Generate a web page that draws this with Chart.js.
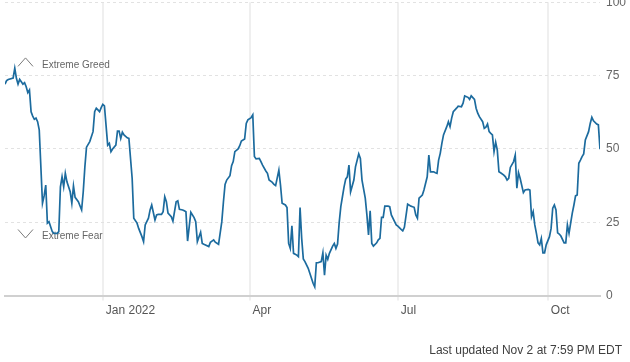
<!DOCTYPE html>
<html>
<head>
<meta charset="utf-8">
<script src="https://cdn.jsdelivr.net/npm/chart.js@4"></script>
<style>
  html, body { margin: 0; padding: 0; background: #fff; }
  #wrap { position: relative; width: 630px; height: 362px; overflow: hidden; }
  #c { position: absolute; left: 0; top: 0; }
  #foot { position: absolute; right: 8px; top: 342px; font: 12px "Liberation Sans", Arial, sans-serif; color: #404040; line-height: 16px; white-space: nowrap; }
</style>
</head>
<body>
<div id="wrap">
  <canvas id="c" width="630" height="362"></canvas>
  <div id="foot">Last updated Nov 2 at 7:59 PM EDT</div>
</div>
<script>
// Days counted from Jan 1 2022 (Nov 2 2021 = -60, Nov 2 2022 = 305)
const days = [
  -60,-59,-58,-55,-54,-53,-52,-51,-50,-49,
  -48,-47,-46,-45,-44,-43,-42,-41,-40,-39,
  -37,-36,-35,-34,-33,-32,-31,-30,-28,-27,
  -26,-25,-24,-23,-22,-20,-19,-18,-17,-15,
  -13,-12,-11,-10,-8,-6,-5,-4,-3,-2,
  -1,0,1,3,4,5,6,8,9,10,
  11,12,13,15,16,18,19,21,22,24,
  25,26,28,29,30,32,33,34,36,37,
  38,39,40,42,43,45,46,47,49,50,
  51,52,54,56,57,58,60,61,62,65,
  66,68,69,71,73,74,75,76,78,79,
  80,81,83,84,85,87,88,89,91,92,
  93,94,96,97,98,100,101,102,104,105,
  106,108,109,110,112,113,114,115,116,117,
  119,120,121,122,123,124,126,127,129,130,
  131,132,134,135,136,137,138,139,141,142,
  143,144,145,146,147,148,149,150,151,152,
  154,155,157,158,159,161,162,163,164,165,
  166,168,169,170,171,172,173,175,176,177,
  179,180,181,183,184,185,187,189,190,191,
  192,193,194,196,197,199,200,201,203,204,
  205,206,207,208,209,211,212,213,214,215,
  217,218,220,221,222,224,225,226,228,229,
  230,231,233,234,235,236,237,238,239,240,
  241,242,243,244,246,247,248,249,250,252,
  253,254,255,256,258,259,261,262,263,264,
  265,266,267,268,269,270,271,272,274,275,
  276,277,278,279,280,281,283,284,285,286,
  287,288,289,290,291,292,293,294,295,296,
  298,299,300,301,303,304,305
];
const values = [
  72.1,73.3,73.7,74.2,77.5,74.1,72.1,73.7,72.9,72.1,
  72.6,71.2,69.2,70.1,62.7,61.2,60.1,60.5,59.3,56.5,
  31.5,34.0,37.7,24.7,25.2,23.5,21.8,21.2,21.2,21.8,
  37.1,40.5,37.1,41.7,38.8,35.4,31.5,37.4,33.5,32.0,
  29.2,35.4,43.9,50.6,52.5,55.9,62.7,63.9,63.3,62.7,
  64.1,65.2,64.7,51.3,51.9,49.1,50.0,51.3,56.1,56.1,
  53.6,55.7,54.8,53.8,53.6,40.0,26.4,24.7,22.9,20.1,
  18.4,24.1,26.4,29.2,30.9,25.8,27.5,27.7,27.7,28.6,
  33.7,32.0,28.1,26.9,25.4,32.0,32.3,29.4,29.2,28.9,
  28.6,18.6,28.4,26.6,25.2,18.4,21.6,17.8,17.5,16.7,
  18.2,19.0,18.2,17.5,25.2,32.0,37.9,39.4,40.9,44.3,
  45.7,49.1,50.0,51.1,52.7,53.4,58.7,59.9,60.7,61.6,
  47.4,46.6,46.8,45.7,44.5,42.5,41.7,39.4,38.6,37.9,
  37.5,42.8,37.7,31.5,30.9,30.0,17.8,16.1,23.8,14.4,
  13.8,13.3,30.0,19.5,12.5,11.6,9.3,7.6,4.2,3.0,
  11.2,11.2,11.6,14.6,7.0,13.8,12.4,14.4,16.9,17.8,
  16.1,17.6,24.9,30.3,33.7,37.1,39.7,40.5,44.5,35.4,
  39.4,43.9,48.3,46.8,39.4,33.2,27.5,20.7,28.9,17.8,
  16.9,18.0,19.0,19.5,26.7,26.7,30.5,30.5,30.3,27.5,
  25.2,24.1,23.7,22.6,22.1,23.3,31.2,30.5,30.3,30.1,
  27.5,26.4,33.2,34.3,36.0,40.5,47.9,42.2,42.2,41.9,
  41.7,46.2,48.5,51.9,54.8,57.6,59.3,57.6,60.5,62.7,
  63.9,64.6,64.4,65.6,68.1,67.6,66.9,68.1,66.9,63.9,
  62.2,61.0,59.3,57.0,57.4,58.5,55.9,55.3,54.8,49.1,
  52.3,49.6,42.2,41.9,41.1,40.5,39.4,40.0,43.7,45.7,
  47.9,36.6,41.9,40.0,35.1,36.0,36.2,36.0,26.9,28.6,
  24.1,21.2,18.0,17.3,19.5,14.6,14.6,17.3,20.1,22.9,
  29.8,30.9,29.2,21.4,21.0,20.3,18.0,18.0,24.1,21.2,
  24.7,28.1,30.9,34.0,34.3,45.1,46.2,47.4,48.3,53.1,
  55.9,58.7,60.8,59.6,58.5,58.2,49.9
];
const xTickDays = [0, 90, 181, 273];
const xTickLabels = ["Jan 2022", "Apr", "Jul", "Oct"];
const yTicks = [0, 25, 50, 75, 100];
const zoneLabels = ["Extreme Greed", "Extreme Fear"];
const zoneLevels = [79, 20.5];
const zoneDirs = ["up", "down"];

const FONT = '"Liberation Sans", Arial, sans-serif';

const zonePlugin = {
  id: 'zones',
  beforeDatasetsDraw(chart) {
    const ctx = chart.ctx;
    const y = chart.scales.y;
    const left = chart.chartArea.left;
    ctx.save();
    zoneLabels.forEach((txt, i) => {
      const py = y.getPixelForValue(zoneLevels[i]);
      ctx.strokeStyle = '#7a7a7a';
      ctx.lineWidth = 1;
      ctx.beginPath();
      if (zoneDirs[i] === 'up') {
        ctx.moveTo(left + 13, py + 2.5);
        ctx.lineTo(left + 20.5, py - 6);
        ctx.lineTo(left + 28, py + 2.5);
      } else {
        ctx.moveTo(left + 13, py - 6);
        ctx.lineTo(left + 20.5, py + 2.5);
        ctx.lineTo(left + 28, py - 6);
      }
      ctx.stroke();
      ctx.fillStyle = '#666';
      ctx.font = '10px ' + FONT;
      ctx.textBaseline = 'middle';
      ctx.textAlign = 'left';
      ctx.fillText(txt, left + 37, py + 1);
    });
    ctx.restore();
  }
};

new Chart(document.getElementById('c'), {
  type: 'line',
  data: {
    datasets: [{
      data: days.map((d, i) => ({ x: d, y: values[i] })),
      borderColor: '#1c6b9e',
      borderWidth: 1.7,
      pointRadius: 0,
      tension: 0,
      fill: false
    }]
  },
  options: {
    responsive: false,
    animation: false,
    devicePixelRatio: 1,
    layout: { padding: { left: 5, right: 0, top: 2.3, bottom: 0 } },
    plugins: { legend: { display: false }, tooltip: { enabled: false } },
    scales: {
      x: {
        type: 'linear',
        min: -60,
        max: 305,
        afterBuildTicks: (s) => { s.ticks = xTickDays.map(v => ({ value: v })); },
        afterFit: (s) => { s.height = 66.4; s.paddingLeft = 0; s.paddingRight = 0; },
        ticks: {
          autoSkip: false,
          maxRotation: 0,
          align: 'start',
          labelOffset: 3,
          padding: 3,
          color: '#555',
          font: { family: FONT, size: 12 },
          callback: (v) => xTickLabels[xTickDays.indexOf(v)]
        },
        grid: { color: '#efefef', lineWidth: 2, drawTicks: true, tickLength: 5, tickColor: '#efefef' },
        border: { display: true, color: '#d0d0d0', width: 2 }
      },
      y: {
        position: 'right',
        min: 0,
        max: 100,
        afterBuildTicks: (s) => { s.ticks = yTicks.map(v => ({ value: v })); },
        afterFit: (s) => { s.width = 30; s.paddingTop = 0; s.paddingBottom = 0; },
        ticks: {
          padding: 6,
          color: '#666',
          font: { family: FONT, size: 12 }
        },
        grid: { color: '#e2e2e2', lineWidth: 1, drawTicks: false },
        border: { display: false, dash: [3, 3] }
      }
    }
  },
  plugins: [zonePlugin]
});
</script>
</body>
</html>
